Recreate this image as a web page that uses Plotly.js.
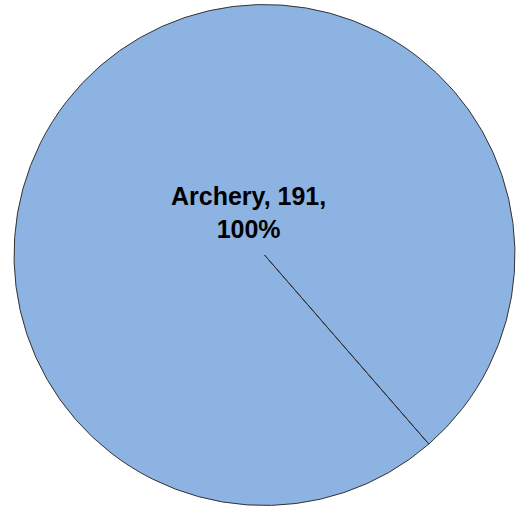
<!DOCTYPE html>
<html>
<head>
<meta charset="utf-8">
<script src="https://cdn.plot.ly/plotly-3.0.1.min.js"></script>
<style>html,body{margin:0;padding:0;background:#fff;}#chart{width:516px;height:508px;}</style>
</head>
<body>
<div id="chart"></div>
<script>
// Data
const labels = ['Archery', ''];
const values = [191, 0];
const sliceColors = ['#8db3e2', '#8db3e2'];

const total = values.reduce((a, b) => a + b, 0);
const pct = Math.round(values[0] / total * 100);
const labelText = labels[0] + ', ' + values[0] + ',<br>' + pct + '%';

const trace = {
  type: 'pie',
  labels: labels,
  values: values,
  sort: false,
  direction: 'clockwise',
  rotation: 139,
  textinfo: 'none',
  hoverinfo: 'label+value+percent',
  marker: {colors: sliceColors, line: {color: '#333333', width: 1}},
  showlegend: false
};

const layout = {
  width: 516,
  height: 508,
  margin: {l: 14, r: 1, t: 4, b: 2},
  paper_bgcolor: '#ffffff',
  showlegend: false,
  annotations: [{
    text: '<b>' + labelText + '</b>',
    x: 0.469, y: 0.584, xref: 'paper', yref: 'paper',
    xanchor: 'center', yanchor: 'middle', showarrow: false,
    font: {family: 'Liberation Sans, Arial, sans-serif', size: 25, color: '#000000'}
  }]
};

Plotly.newPlot('chart', [trace], layout, {displayModeBar: false, staticPlot: true});
</script>
</body>
</html>
